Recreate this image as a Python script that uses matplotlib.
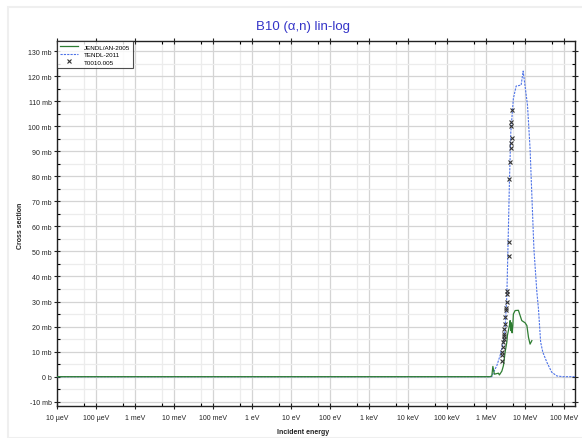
import matplotlib
matplotlib.use("Agg")
import matplotlib.pyplot as plt
from matplotlib.patches import Rectangle
import numpy as np

plt.rcParams['font.family'] = ['Liberation Sans', 'DejaVu Sans']

# ---- data (energy in eV, cross section in mb) ----
jendl_e = [1e-5, 1.26e6, 1.40e6, 1.49e6, 1.63e6, 2.07e6, 2.19e6, 2.53e6, 2.78e6,
           3.07e6, 3.40e6, 3.52e6, 3.96e6, 4.12e6, 4.30e6, 4.45e6, 4.64e6, 4.84e6,
           5.0e6, 5.54e6, 6.73e6, 7.45e6, 8.2e6, 10e6, 11.1e6, 12.2e6, 13.4e6, 14.9e6]
jendl_xs = [0, 0, 0.3, 4.1, 1.0, 1.4, 0.7, 2.2, 4.4,
            9.8, 13.8, 16.5, 20.4, 22.4, 18.4, 21.5, 17.5, 20.4,
            25.0, 26.4, 26.5, 24.4, 22.4, 21.5, 20.4, 15.7, 13.0, 14.4]

tendl_e = [1e-5, 1.3e6, 1.4e6, 1.54e6, 1.88e6, 2.28e6, 2.78e6, 3.07e6, 3.40e6,
           3.73e6, 3.96e6, 4.30e6, 5.0e6, 5.88e6, 7.9e6, 8.9e6, 11.5e6, 13.4e6,
           16.8e6, 20e6, 22e6, 25e6, 28.4e6, 36e6, 48e6, 65e6, 94e6, 1.9e8]
tendl_xs = [0, 0, 0, 1.7, 4.4, 8.4, 13.8, 19.0, 32.4,
            59.0, 77.7, 97.7, 111.0, 116.0, 116.4, 122.0, 108.4, 91.0,
            51.0, 33.8, 27.0, 13.8, 9.8, 5.8, 1.8, 0.3, 0, 0]

exfor_e = [2.50e6, 2.55e6, 2.62e6, 2.70e6, 2.78e6, 2.85e6, 2.90e6, 2.93e6, 2.95e6,
           3.05e6, 3.10e6, 3.20e6, 3.30e6, 3.40e6, 3.45e6, 3.50e6, 3.80e6, 3.90e6,
           3.95e6, 4.10e6, 4.30e6, 4.45e6, 4.50e6, 4.45e6, 4.45e6, 4.56e6]
exfor_xs = [6.4, 8.5, 9.8, 12.0, 13.8, 15.0, 16.4, 17.0, 19.0,
            21.0, 24.0, 26.5, 27.5, 29.9, 33.0, 34.4, 48.0, 53.8,
            78.8, 85.8, 91.2, 93.2, 95.2, 99.9, 101.5, 106.4]

xtick_vals = [1e-5, 1e-4, 1e-3, 1e-2, 1e-1, 1, 10, 100, 1e3, 1e4, 1e5, 1e6, 1e7, 1e8]
xtick_labels = ['10 µeV', '100 µeV', '1 meV', '10 meV', '100 meV', '1 eV', '10 eV',
                '100 eV', '1 keV', '10 keV', '100 keV', '1 MeV', '10 MeV', '100 MeV']
ytick_vals = [-10, 0, 10, 20, 30, 40, 50, 60, 70, 80, 90, 100, 110, 120, 130]
ytick_labels = ['-10 mb', '0 b', '10 mb', '20 mb', '30 mb', '40 mb', '50 mb', '60 mb',
                '70 mb', '80 mb', '90 mb', '100 mb', '110 mb', '120 mb', '130 mb']

W, H = 582, 439
fig = plt.figure(figsize=(W / 100, H / 100), dpi=100)
fig.patches.append(Rectangle((8 / W, 0), 1, 1 - 8 / H, transform=fig.transFigure,
                             fill=False, edgecolor='#efefef', linewidth=1.5))

L, R, T, B = 57, 575, 42, 407
ax = fig.add_axes([L / W, 1 - B / H, (R - L) / W, (B - T) / H])

ax.plot(tendl_e, tendl_xs, color='#4f74e8', linewidth=0.8, linestyle=(0, (2, 1)),
        label='TENDL-2011', zorder=3)
ax.plot(jendl_e, jendl_xs, color='#2e7d32', linewidth=0.9, label='JENDL/AN-2005', zorder=4)
ax.plot(exfor_e, exfor_xs, linestyle='none', marker='x', markersize=2.5,
        markeredgewidth=0.8, color='#333333', label='T0010.005', zorder=5)

ax.set_xscale('log')

ax.set_xticks(xtick_vals)
ax.set_xticklabels(xtick_labels)
ax.set_xticks([5 * v for v in xtick_vals[:-1]], minor=True)
ax.set_xticklabels([], minor=True)
ax.set_yticks(ytick_vals)
ax.set_yticklabels(ytick_labels)
ax.set_yticks(np.arange(-5, 134, 10), minor=True)
ax.set_xlim(1e-5, 1.9e8)
ax.set_ylim(-11.7, 134)

ax.tick_params(axis='both', which='major', labelsize=5, colors='#222222',
               direction='inout', length=5, width=0.8, pad=1.5)
ax.tick_params(axis='both', which='minor', direction='in', length=2.5, width=0.8)
ax.tick_params(top=True, right=True, which='both')
ax.tick_params(axis='x', which='major', pad=3)

ax.grid(True, which='major', color='#d4d4d4', linewidth=0.9)
ax.grid(True, which='minor', color='#ececec', linewidth=0.9)
ax.set_axisbelow(True)
for s in ax.spines.values():
    s.set_linewidth(1.0)
    s.set_color('#222222')

h, l = ax.get_legend_handles_labels()
order = [1, 0, 2]
leg = ax.legend([h[i] for i in order], [l[i] for i in order], loc='upper left',
                fontsize=4.5, frameon=True, fancybox=False, borderaxespad=0,
                handlelength=2.8, handletextpad=1.0, labelspacing=0.35,
                borderpad=0.5)
leg.get_frame().set_edgecolor('#222222')
leg.get_frame().set_linewidth(0.8)

fig.text(303 / W, 1 - 27 / H, 'B10 (α,n) lin-log', ha='center', va='center',
         fontsize=9.5, color='#3434c8')
fig.text(303 / W, 1 - 433 / H, 'Incident energy', ha='center', va='center',
         fontsize=5, fontweight='bold', color='#222222')
fig.text(20 / W, 1 - 226 / H, 'Cross section', ha='center', va='center',
         rotation=90, fontsize=5, fontweight='bold', color='#222222')

fig.savefig('out.png', dpi=100)
